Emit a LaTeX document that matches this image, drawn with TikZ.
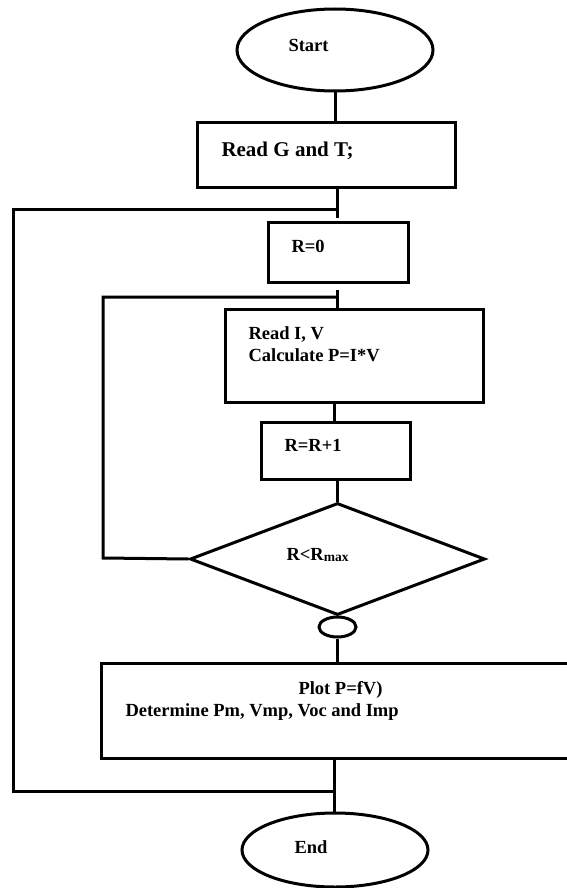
\documentclass[tikz,border=0pt]{standalone}
\usepackage{fontspec}
\setmainfont{Liberation Serif}
\usetikzlibrary{shapes.geometric}
\begin{document}
\begin{tikzpicture}[x=1pt,y=-1pt,line width=3pt,
  box/.style={draw,rectangle,inner sep=0pt},
  term/.style={draw,ellipse,inner sep=0pt},
  decide/.style={draw,diamond,inner sep=0pt},
  lbl/.style={anchor=base west,inner sep=0pt,font=\bfseries\fontsize{18.5}{22}\selectfont},
  biglbl/.style={lbl,font=\bfseries\fontsize{21}{25}\selectfont}]
\useasboundingbox (0,0) rectangle (567,888);
% shapes
\node[term,minimum width=196pt,minimum height=82pt] (start) at (335,50) {};
\node[box,minimum width=258pt,minimum height=64pt] (read) at (326,155) {};
\node[box,minimum width=140pt,minimum height=60pt] (rzero) at (338,252) {};
\node[box,minimum width=258pt,minimum height=93pt] (readiv) at (354,355.5) {};
\node[box,minimum width=149pt,minimum height=57pt] (rinc) at (335.5,450.5) {};
\node[decide,minimum width=295pt,minimum height=112pt] (cond) at (337.5,559) {};
\node[term,minimum width=37pt,minimum height=20pt] (join) at (337.5,627) {};
\node[box,minimum width=479pt,minimum height=95pt] (plot) at (340.5,710.5) {};
\node[term,minimum width=186pt,minimum height=74pt] (end) at (335,850) {};
% labels
\node[lbl] (tstart) at (287,52) {Start};
\node[biglbl] (tread) at (220,156) {Read G and T;};
\node[lbl] (trzero) at (290,252) {R=0};
\node[lbl] (triv1) at (247,339) {Read I, V};
\node[lbl] (triv2) at (247,361) {Calculate P=I*V};
\node[lbl] (trinc) at (283,451) {R=R+1};
\node[lbl] (tcond) at (285,560) {R<R\raisebox{-1.5pt}{\fontsize{13.5}{14}\selectfont max}};
\node[lbl] (tplot1) at (297,694) {Plot P=fV)};
\node[lbl] (tplot2) at (124,716) {Determine Pm, Vmp, Voc and Imp};
\node[lbl] (tend) at (293,853) {End};
% free ends and corners
\coordinate (outj) at (337,209);
\coordinate (outtl) at (13,209);
\coordinate (outbl) at (13,791);
\coordinate (outj2) at (334,791);
\coordinate (readend) at (337,218);
\coordinate (inj) at (337,297);
\coordinate (inj0) at (337,290);
\coordinate (intl) at (103,297);
\coordinate (inbl) at (103,558);
% connectors
\draw (start.south) -- (start.south |- read.north);
\draw (outj |- read.south) -- (readend);
\draw (outj) -- (outtl) -- (outbl) -- (outj2);
\draw (inj0) -- (inj0 |- readiv.north);
\draw (inj) -- (intl) -- (inbl) -- (cond.west);
\draw (334,402) -- (334,422);
\draw (cond.north |- rinc.south) -- (cond.north);
\draw (cond.south) -- (join.north);
\draw (join.south) -- (join.south |- plot.north);
\draw (outj2 |- plot.south) -- (outj2 |- end.north);
\end{tikzpicture}
\end{document}
